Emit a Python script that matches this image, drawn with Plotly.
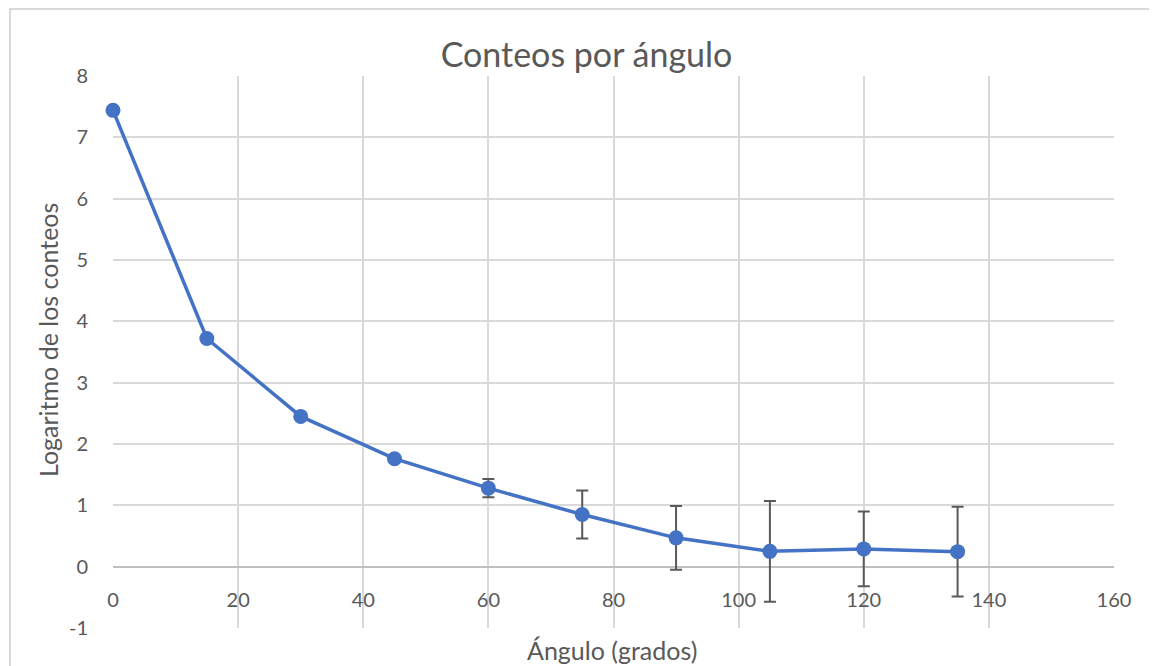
import plotly.graph_objects as go

angles = [0, 15, 30, 45, 60, 75, 90, 105, 120, 135]
log_counts = [7.44, 3.72, 2.45, 1.76, 1.28, 0.85, 0.47, 0.25, 0.29, 0.245]
errors = [0, 0, 0, 0, 0.15, 0.39, 0.52, 0.82, 0.61, 0.73]

x_ticks = [0, 20, 40, 60, 80, 100, 120, 140, 160]
y_ticks = [-1, 0, 1, 2, 3, 4, 5, 6, 7, 8]
y_tick_text = ["-1", "0", "1", "2", "3", "4", "5", "6", "7", "8"]

W, H = 1157, 666
OFF = 8  # page body margin
L, R, T, B = 105, 51, 68, 46
pw, ph = W - L - R, H - T - B

font = "Lato, Noto Sans, sans-serif"
grey = "#595959"


def px_x(sx):
    return (sx - OFF - L) / pw


def px_y(sy):
    return (H - B - (sy - OFF)) / ph


fig = go.Figure()
fig.add_trace(go.Scatter(
    x=angles, y=log_counts, mode="lines+markers",
    line=dict(color="#4472C4", width=3.5),
    marker=dict(color="#4472C4", size=15),
    error_y=dict(type="data", array=errors, visible=True,
                 color=grey, thickness=2, width=6),
    cliponaxis=False,
    showlegend=False,
))

fig.update_layout(
    width=W, height=H,
    margin=dict(l=L, r=R, t=T, b=B),
    paper_bgcolor="white", plot_bgcolor="white",
    font=dict(family=font, color=grey, size=20),
    title=dict(text="Conteos por ángulo", x=0.5, xref="container", xanchor="center",
               y=1 - (55 - OFF) / H, yanchor="middle",
               font=dict(family=font, size=34, color=grey)),
    xaxis=dict(range=[0, 160], tickvals=x_ticks, showgrid=True,
               gridcolor="#d9d9d9", gridwidth=1.5, zeroline=False,
               anchor="free", position=1 / 9, showline=False,
               ticks="outside", ticklen=15, tickcolor="rgba(0,0,0,0)",
               tickfont=dict(size=20, color=grey)),
    yaxis=dict(range=[-1, 8], tickvals=y_ticks, ticktext=y_tick_text,
               showgrid=True,
               gridcolor="#d9d9d9", gridwidth=1.5, zeroline=True,
               zerolinecolor="#bfbfbf", zerolinewidth=2,
               ticks="outside", ticklen=20, tickcolor="rgba(0,0,0,0)",
               tickfont=dict(size=20, color=grey)),
    shapes=[dict(type="rect", xref="paper", yref="paper",
                 x0=px_x(10), x1=1.2, y0=-0.3, y1=px_y(9),
                 line=dict(color="#d9d9d9", width=2), layer="below")],
    annotations=[
        dict(text="Ángulo (grados)", xref="paper", yref="paper",
             x=px_x(612), y=px_y(650), showarrow=False,
             xanchor="center", yanchor="middle",
             font=dict(size=25, color=grey, family=font)),
        dict(text="Logaritmo de los conteos", xref="paper", yref="paper",
             x=px_x(48), y=px_y(340), showarrow=False,
             textangle=-90, xanchor="center", yanchor="middle",
             font=dict(size=25, color=grey, family=font)),
    ],
)

fig.write_html("out.html")
